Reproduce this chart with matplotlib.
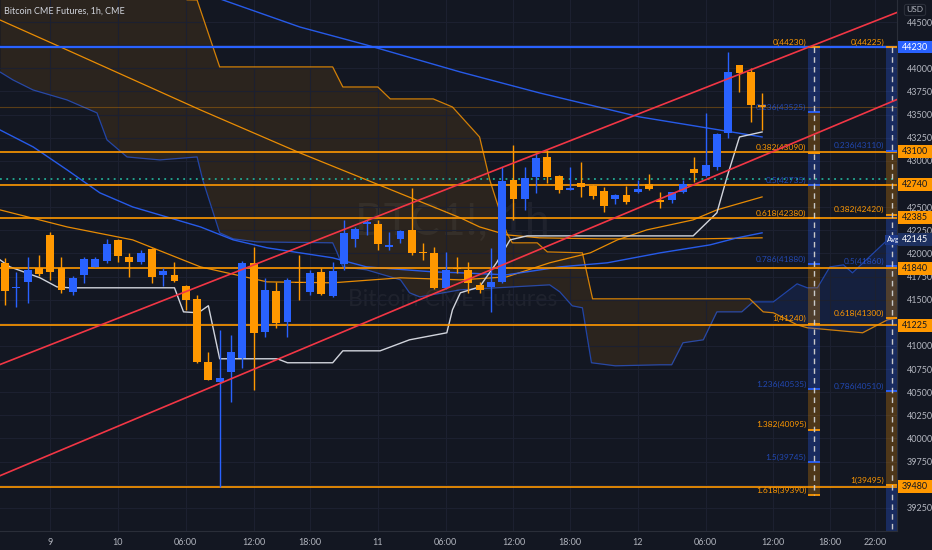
import numpy as np
import matplotlib.pyplot as plt
import matplotlib.transforms as mtransforms
from matplotlib.patches import Rectangle

plt.rcParams['font.family'] = ['Lato', 'DejaVu Sans']

BG = '#131722'
BLUE = '#2962FF'
ORANGE = '#FF9800'
RED = '#F23645'
TXT = '#B2B5BE'

### candles, 1h bars (index 0 = first visible bar)
opens = [41900, 41630, 41690, 41845, 42200, 41845, 41585, 41770, 41855, 41920,
         42145, 41960, 41910, 42050, 41770, 41770, 41650, 41510, 40830, 40610,
         40720, 40870, 41895, 41150, 41595, 41260, 41690, 41585, 41800, 41540,
         41885, 42155, 42320, 42320, 42070, 42155, 42255, 42015, 42005, 41630,
         41845, 41820, 41660, 41640, 41690, 42795, 42590, 42825, 43040, 42835,
         42685, 42760, 42730, 42675, 42590, 42630, 42665, 42750, 42580, 42580,
         42665, 42915, 42835, 42935, 43300, 44035, 43960, 43605]
highs = [41950, 41800, 41960, 41985, 42230, 41960, 41755, 41960, 41960, 42155,
         42150, 42005, 42040, 42060, 41845, 41910, 41660, 41550, 40935, 41170,
         41120, 41920, 42070, 41735, 41690, 41735, 41985, 41820, 41845, 41910,
         42360, 42285, 42360, 42360, 42230, 42255, 42710, 42115, 42070, 42015,
         41960, 41910, 41690, 42060, 42935, 43170, 42935, 43085, 43120, 42850,
         42935, 42990, 42740, 42720, 42645, 42730, 42795, 42860, 42665, 42665,
         42795, 43040, 43515, 43300, 44175, 44040, 44005, 43735]
lows = [41445, 41420, 41465, 41755, 41715, 41575, 41550, 41680, 41850, 41900,
        41910, 41745, 41885, 41680, 41650, 41690, 41390, 40820, 40630, 39480,
        40395, 40765, 40525, 41100, 41195, 41100, 41500, 41550, 41550, 41530,
        41820, 42070, 42200, 42040, 42040, 42115, 41985, 41930, 41620, 41620,
        41790, 41575, 41575, 41370, 41680, 42360, 42470, 42655, 42760, 42655,
        42685, 42610, 42590, 42450, 42535, 42535, 42655, 42685, 42490, 42545,
        42655, 42770, 42825, 42900, 43245, 43745, 43420, 43335]
closes = [41595, 41640, 41820, 41780, 41800, 41605, 41735, 41940, 41940, 42105,
          41975, 41910, 42005, 41745, 41810, 41705, 41500, 40830, 40635, 40655,
          40935, 41895, 41140, 41605, 41250, 41715, 41680, 41790, 41565, 41810,
          42220, 42265, 42340, 42105, 42090, 42245, 42005, 42005, 41630, 41820,
          41835, 41680, 41605, 41690, 42785, 42590, 42815, 43030, 42825, 42685,
          42710, 42720, 42620, 42515, 42630, 42555, 42695, 42695, 42555, 42665,
          42750, 42870, 42955, 43290, 43960, 43950, 43605, 43580]

### indicator lines (bar index, price)
span_a_x = [-0.44, 0.71, 2.48, 5.49, 8.14, 9.03, 10.8, 13.7, 17.0, 17.5, 19.0, 20.2, 22.3,
            29.0, 29.4, 29.9, 32.0, 35.0, 35.8, 36.7, 40.3, 48.2, 49.1, 50.2, 51.1, 51.9,
            54.0, 58.0, 59.0, 60.0, 61.8, 63.0, 65.2, 66.2, 68.0, 70.1, 71.0, 71.9, 73.0,
            74.2, 75.0, 78.1, 79.2]
span_a_y = [43960, 43874, 43766, 43658, 43518, 43226, 43042, 43010, 43042, 42794, 42222,
            42157, 42124, 42114, 42006, 41854, 41822, 41714, 41574, 41530, 41606, 41660,
            41584, 41433, 41412, 40818, 40785, 40796, 40796, 41034, 41066, 41368, 41368,
            41476, 41476, 41671, 41628, 41628, 41854, 41876, 41790, 42146, 42200]
span_b_x = [-0.44, 15.0, 16.1, 17.0, 19.0, 29.0, 29.9, 33.0, 34.1, 37.9, 39.6, 42.0, 42.9,
            44.4, 44.9, 47.1, 48.0, 51.1, 52.0, 65.9, 67.1, 68.0, 70.1, 71.0, 75.9, 78.1, 79.2]
span_b_y = [44900, 44900, 44740, 44738, 44015, 44015, 43798, 43798, 43669, 43669, 43582,
            43258, 42794, 42222, 42114, 42114, 42016, 42006, 41509, 41509, 41368, 41358,
            41228, 41196, 41142, 41282, 41305]
ma_orange_long_x = [-0.44, 5.5, 17.3, 26.1, 40.3, 42.0, 44.4, 47.3, 52.7, 61.5, 67]
ma_orange_long_y = [44522, 44198, 43550, 43086, 42384, 42286, 42200, 42168, 42157, 42157, 42168]
ma_orange_short_x = [-0.44, 5.5, 11.3, 17.3, 23.2, 29.0, 35.0, 40.3, 44.4, 48.2, 51.8,
                     54.2, 56.8, 60.9, 63.0, 67]
ma_orange_short_y = [42470, 42286, 42146, 41854, 41692, 41682, 41736, 41714, 41746, 41898,
                     42006, 42146, 42254, 42362, 42470, 42610]
ma_blue_long_x = [-0.44, 19.3, 26.1, 32.0, 40.3, 47.3, 56.2, 67]
ma_blue_long_y = [45580, 44738, 44446, 44252, 43960, 43734, 43474, 43258]
ma_blue_short_x = [-0.44, 2.5, 5.5, 8.4, 11.3, 14.3, 17.3, 20.2, 23.2, 26.1, 29.0, 32.0,
                   37.9, 40.3, 44.4, 49.1, 53.3, 58.0, 62.4, 64.8, 67]
ma_blue_short_y = [43334, 43150, 42902, 42654, 42502, 42394, 42286, 42146, 42060, 42006,
                   41952, 41854, 41800, 41790, 41768, 41854, 41898, 42006, 42092, 42168, 42222]
stop_x = [-0.44, 0.44, 3.1, 4.6, 5.75, 15.0, 15.8, 17.1, 18.0, 19.0, 24.1, 25.0, 29.0, 29.9,
          33.2, 35.8, 39.1, 39.6, 40.3, 42.0, 43.5, 44.7, 46.2, 60.9, 63.0, 63.9, 65.0, 67]
stop_y = [41930, 41854, 41736, 41638, 41628, 41628, 41368, 41358, 41434, 40861, 40861, 40818,
          40818, 40947, 40947, 41066, 41142, 41390, 41574, 41638, 41898, 42146, 42189, 42189,
          42438, 42826, 43258, 43312]

# horizontal levels
orange_levels = [43100, 42740, 42385, 41840, 41225, 39480]
blue_level = 44230
dotted_level = 42800
avg_price = 42145

# fib columns
fib_a_levels = [0, 0.236, 0.382, 0.5, 0.618, 0.786, 1, 1.236, 1.382, 1.5, 1.618]
fib_a_prices = [44230, 43525, 43090, 42735, 42380, 41880, 41240, 40535, 40095, 39745, 39390]
fib_b_levels = [0, 0.236, 0.382, 0.5, 0.618, 0.786, 1, 1.236]
fib_b_prices = [44225, 43110, 42420, 41860, 41300, 40510, 39495, 38380]

# red channel (two points each)
channel_up = [(0, 40820), (70, 44175)]
channel_low = [(0, 39620), (70, 43205)]

price_ticks = [44500, 44250, 44000, 43750, 43500, 43250, 43000, 42750, 42500, 42250, 42000,
               41750, 41500, 41250, 41000, 40750, 40500, 40250, 40000, 39750, 39500, 39250]
hidden_ticks = [44250, 42750, 41250, 39500]
time_pos = [4, 10, 16, 22, 27, 33, 39, 45, 50, 56, 62, 68, 73, 77]
time_labels = ['9', '10', '06:00', '12:00', '18:00', '11', '06:00', '12:00', '18:00', '12',
               '06:00', '12:00', '18:00', '22:00']


fig = plt.figure(figsize=(9.32, 5.5), dpi=100, facecolor=BG)
ax = fig.add_axes([0, 19 / 550, 897 / 932, 531 / 550], facecolor=BG)
ax.set_xlim(-0.44, 78.94)
ax.set_ylim(39000, 44738)

# axes / grid
ax.set_yticks(price_ticks)
ax.set_yticklabels(['' if t in hidden_ticks else str(t) for t in price_ticks])
ax.yaxis.tick_right()
ax.set_xticks(time_pos)
ax.set_xticklabels(time_labels)
ax.tick_params(axis='y', length=0, pad=7, labelsize=6.5, labelcolor=TXT)
ax.tick_params(axis='x', length=0, pad=5, labelsize=6.5, labelcolor=TXT)
ax.grid(color='#1c2030', lw=0.8, zorder=0)
for s in ['top', 'left']:
    ax.spines[s].set_visible(False)
for s in ['right', 'bottom']:
    ax.spines[s].set_color('#2a2e39')

# ichimoku-like cloud
grid_x = np.linspace(-0.44, 79.2, 2000)
a = np.interp(grid_x, span_a_x, span_a_y)
b = np.interp(grid_x, span_b_x, span_b_y)
ax.fill_between(grid_x, a, b, where=b >= a, color=ORANGE, alpha=0.10, lw=0, interpolate=True, zorder=1)
ax.fill_between(grid_x, a, b, where=a > b, color=BLUE, alpha=0.13, lw=0, interpolate=True, zorder=1)
ax.plot(span_a_x, span_a_y, color=BLUE, alpha=0.6, lw=0.9, zorder=2)
ax.plot(span_b_x, span_b_y, color=ORANGE, alpha=0.8, lw=0.9, zorder=2)

# moving averages + stop line
ax.plot(ma_orange_long_x, ma_orange_long_y, color=ORANGE, lw=0.9, alpha=0.9, zorder=2)
ax.plot(ma_orange_short_x, ma_orange_short_y, color=ORANGE, lw=0.9, alpha=0.9, zorder=2)
ax.plot(ma_blue_long_x, ma_blue_long_y, color=BLUE, lw=1.0, alpha=0.9, zorder=2)
ax.plot(ma_blue_short_x, ma_blue_short_y, color=BLUE, lw=1.0, alpha=0.9, zorder=2)
ax.plot(stop_x, stop_y, color='#D1D4DC', lw=1.0, zorder=2)

# watermark
ax.text(39.6, 42330, 'BTC1!, 1h', fontsize=32, color='white', alpha=0.05,
        ha='center', va='center', zorder=1)
ax.text(39.6, 41500, 'Bitcoin CME Futures', fontsize=16.5, color='white', alpha=0.05,
        ha='center', va='center', zorder=1)

# horizontal lines
for lv in orange_levels:
    ax.axhline(lv, color=ORANGE, lw=1.2, zorder=3)
ax.axhline(blue_level, color=BLUE, lw=1.6, zorder=3)
ax.axhline(dotted_level, color='#22AB94', lw=1.3, ls=(0, (1, 2.5)), zorder=3)
ax.axhline(closes[-1], color=ORANGE, lw=0.8, alpha=0.3, zorder=3)


def draw_fib(x0, x1, levels, prices, label_x, n_labels):
    cols = [ORANGE if i % 2 == 0 else BLUE for i in range(len(levels))]
    for i in range(len(prices) - 1):
        c = cols[i + 1]
        ax.fill_between([x0, x1], prices[i], prices[i + 1], color=c,
                        alpha=0.28 if c == BLUE else 0.25, lw=0, zorder=2.5)
    for i, (lv, p) in enumerate(zip(levels, prices)):
        ax.hlines(p, x0, x1, color=cols[i], lw=1.3, zorder=3.5)
        if i < n_labels:
            ax.text(label_x, p + 15, '{:g}({})'.format(lv, p), ha='right', va='bottom',
                    fontsize=6, color=cols[i], alpha=1 if cols[i] == ORANGE else 0.65,
                    clip_on=True, zorder=5)
    xm = (x0 + x1) / 2
    ax.plot([xm, xm], [prices[0], prices[-1]], ls=(0, (4, 3)), color='#C8C8C8', lw=1, zorder=3.6)


draw_fib(71.1, 72.1, fib_a_levels, fib_a_prices, 70.9, len(fib_a_levels))
draw_fib(78.0, 79.0, fib_b_levels, fib_b_prices, 77.8, 7)

# candles
idx = np.arange(len(opens))
o = np.array(opens)
c = np.array(closes)
colors = [BLUE if cc >= oo else ORANGE for oo, cc in zip(o, c)]
ax.vlines(idx, lows, highs, color=colors, lw=1, zorder=4)
ax.bar(idx, np.maximum(np.abs(c - o), 12), bottom=np.minimum(o, c), width=0.7,
       color=colors, lw=0, zorder=4.1)

# channel
ax.axline(*channel_up, color=RED, lw=1.2, zorder=6)
ax.axline(*channel_low, color=RED, lw=1.2, zorder=6)

# "Avg" tag
ax.text(78.6, avg_price, 'Avg', fontsize=5.5, color='white', ha='center', va='center',
        bbox=dict(boxstyle='square,pad=0.25', fc='#1E3A8A', ec='none'), zorder=7)

# price axis tags
tr = mtransforms.blended_transform_factory(fig.transFigure, ax.transData)
tags = [(blue_level, BLUE, 'white')] + [(lv, ORANGE, BG) for lv in orange_levels] + \
       [(avg_price, '#1E3160', 'white')]
for p, fc, tc in tags:
    ax.add_patch(Rectangle((898 / 932, p - 70), 34 / 932, 140, transform=tr, facecolor=fc,
                           edgecolor='none', clip_on=False, zorder=10))
    ax.text(915 / 932, p, str(p), transform=tr, ha='center', va='center', fontsize=6.5,
            color=tc, clip_on=False, zorder=11)

fig.text(915 / 932, 1 - 10 / 550, 'USD', fontsize=6, color=TXT, ha='center', va='center',
         bbox=dict(boxstyle='round,pad=0.25', fc=BG, ec='#2a2e39', lw=0.8))
fig.text(4 / 932, 1 - 11 / 550, 'Bitcoin CME Futures, 1h, CME', fontsize=6.5, color='#D1D4DC',
         ha='left', va='center')

fig.savefig('out.png', dpi=100, facecolor=BG)
